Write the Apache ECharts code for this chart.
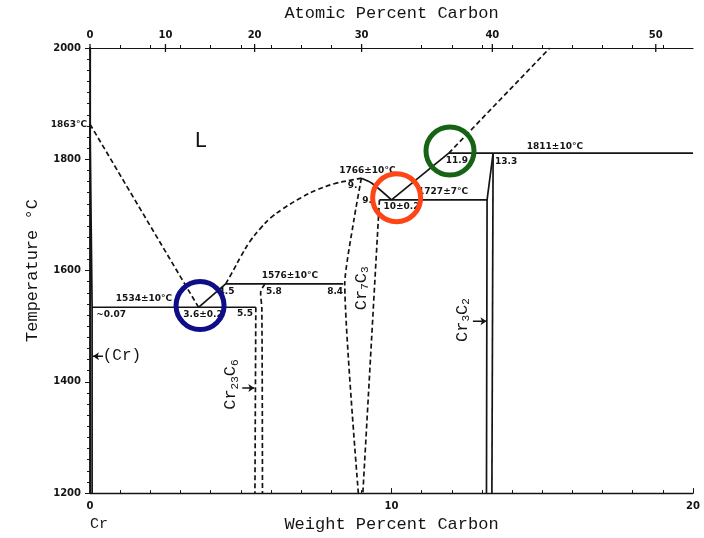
<!DOCTYPE html>
<html>
<head>
<meta charset="utf-8">
<script src="https://cdn.jsdelivr.net/npm/echarts@6/dist/echarts.min.js"></script>
<style>
  html, body { margin: 0; padding: 0; background: #fff; }
  #chart { width: 704px; height: 538px; }
</style>
</head>
<body>
<div id="chart"></div>
<script>
// Cr–C phase diagram: temperature (°C) against weight percent carbon.

// axis ticks
const tempTicks = [1200, 1400, 1600, 1800, 2000];
const atomicTicks = [0, 10, 20, 30, 40, 50];

// phase boundaries, each point [wt% C, °C]
const liquidusCr = [[0, 1863], [3.6, 1534]];
const solidusCr = [[0, 1863], [0.07, 1534], [0.07, 1200]];
const eutecticLow = [[0.07, 1534], [5.5, 1534]];
const eutecticLowTie = [[3.6, 1534], [4.5, 1576]];
const peritectic = [[4.5, 1576], [8.4, 1576]];
const liquidusMid = [[4.5, 1576], [4.75, 1600], [5.0, 1625], [5.3, 1652], [5.64, 1675], [6.0, 1695],
  [6.4, 1711], [7.0, 1731], [7.53, 1745], [8.1, 1756], [8.62, 1762], [9.0, 1766]];
const liquidusCr7C3 = [[9.0, 1766], [9.35, 1757], [10.0, 1727]];
const eutecticHighTie = [[10.0, 1727], [11.9, 1811]];
const liquidusC = [[11.9, 1811], [15.25, 2000]];
const eutecticHigh = [[9.6, 1727], [13.17, 1727]];
const eutecticTop = [[11.9, 1811], [20, 1811]];
const cr3c2Left = [[13.37, 1811], [13.17, 1727], [13.15, 1200]];
const cr3c2Right = [[13.37, 1811], [13.33, 1200]];
const cr7c3Left = [[9.0, 1766], [8.75, 1690], [8.45, 1576], [8.9, 1200]];
const cr7c3Right = [[9.6, 1727], [9.05, 1200]];
const cr23c6Left = [[5.5, 1534], [5.47, 1200]];
const cr23c6Right = [[5.8, 1576], [5.66, 1560], [5.7, 1530], [5.72, 1200]];

// value notes [text, wt% C, °C]
const notes = [
  ['1534±10°C', 1.79, 1550],
  ['~0.07', 0.70, 1520],
  ['3.6±0.2', 3.75, 1520],
  ['5.5', 5.14, 1523],
  ['4.5', 4.53, 1562],
  ['1576±10°C', 6.63, 1591],
  ['5.8', 6.10, 1562],
  ['8.4', 8.13, 1562],
  ['1766±10°C', 9.2, 1779],
  ['9.', 8.71, 1752],
  ['9.', 9.19, 1725],
  ['10±0.2', 10.33, 1714],
  ['1727±7°C', 11.71, 1741],
  ['11.9', 12.17, 1798],
  ['13.3', 13.8, 1796],
  ['1811±10°C', 15.42, 1823]
];
const meltCr = ['1863°C', 0, 1863];

// phase names: [element, count, element, count, wt% C, °C]
const phases = [
  ['Cr', '7', 'C', '3', 8.99, 1568],
  ['Cr', '3', 'C', '2', 12.34, 1511],
  ['Cr', '23', 'C', '6', 4.66, 1395]
];
const liquidName = ['L', 3.68, 1832];
const crPhase = ['(Cr)', 1.06, 1446];
const crElement = ['Cr', 0, 1200];

// pointers from phase names to their boundaries
const arrowCr = [[0.1, 1446], [0.43, 1446]];
const arrowCr3C2 = [[12.7, 1509], [13.15, 1509]];
const arrowCr23C6 = [[5.05, 1389], [5.45, 1389]];

// highlighted invariant points
const highlightAt = [[3.65, 1537], [10.17, 1731], [11.94, 1815]];
const highlightColors = ['#0e0e88', '#ff4516', '#156315'];

const ink = '#141414';
const mono = '"Liberation Mono", "DejaVu Sans Mono", monospace';
const noteFont = '"DejaVu Sans", sans-serif';

const atomicMassC = 12.011, atomicMassCr = 51.996;
const atToWt = a => 100 * a * atomicMassC / (a * atomicMassC + (100 - a) * atomicMassCr);

function boundary(data, dashed, smooth) {
  return {
    type: 'line', data: data, symbol: 'none', silent: true, z: 3,
    smooth: smooth || false,
    lineStyle: { color: ink, width: 1.7, type: dashed ? [5, 3] : 'solid' }
  };
}

function pointer(data, dir) {
  return {
    type: 'line', silent: true, z: 4,
    data: [
      { value: data[0], symbol: dir === 'left' ? 'arrow' : 'none', symbolSize: 6, symbolRotate: 90 },
      { value: data[1], symbol: dir === 'right' ? 'arrow' : 'none', symbolSize: 6, symbolRotate: -90 }
    ],
    showSymbol: true,
    itemStyle: { color: ink, opacity: 1 },
    lineStyle: { color: ink, width: 1.4 }
  };
}

function textSeries(items, label, extra) {
  return Object.assign({
    type: 'scatter', silent: true, z: 5, symbolSize: 0,
    itemStyle: { opacity: 1 },
    data: items.map(n => ({ value: [n[1], n[2]], name: n[0] })),
    label: Object.assign({ show: true, position: 'inside', formatter: p => p.name, color: ink }, label)
  }, extra || {});
}

const chart = echarts.init(document.getElementById('chart'), null, { renderer: 'canvas' });

chart.setOption({
  backgroundColor: '#ffffff',
  animation: false,
  grid: { left: 90, right: 11, top: 48, bottom: 41 },
  xAxis: [
    {
      type: 'value', min: 0, max: 20, interval: 10, position: 'bottom',
      name: 'Weight Percent Carbon', nameLocation: 'middle', nameGap: 20,
      nameTextStyle: { fontFamily: mono, fontSize: 17, color: ink },
      axisLine: { lineStyle: { color: ink, width: 1.4 } },
      axisTick: { inside: true, length: 5, lineStyle: { color: ink } },
      minorTick: { show: true, splitNumber: 10, length: 3, lineStyle: { color: ink } },
      axisLabel: { fontFamily: noteFont, fontWeight: 'bold', fontSize: 10, color: ink, margin: 8 },
      splitLine: { show: false }
    },
    {
      type: 'value', min: 0, max: 20, interval: 10, position: 'top',
      name: 'Atomic Percent Carbon', nameLocation: 'middle', nameGap: 26,
      nameTextStyle: { fontFamily: mono, fontSize: 17, color: ink },
      axisLine: { lineStyle: { color: ink, width: 1.2 } },
      axisTick: { show: false },
      minorTick: { show: true, splitNumber: 10, length: 3, lineStyle: { color: ink } },
      axisLabel: { show: false },
      splitLine: { show: false }
    }
  ],
  yAxis: [
    {
      type: 'value', min: tempTicks[0], max: tempTicks[tempTicks.length - 1], interval: 200,
      name: 'Temperature °C', nameLocation: 'middle', nameGap: 49, nameRotate: 90,
      nameTextStyle: { fontFamily: mono, fontSize: 17, color: ink },
      axisLine: { lineStyle: { color: ink, width: 1.8 } },
      axisTick: { inside: false, length: 5, lineStyle: { color: ink } },
      minorTick: { show: true, splitNumber: 10, length: 3, lineStyle: { color: ink } },
      axisLabel: {
        fontFamily: noteFont, fontWeight: 'bold', fontSize: 10, color: ink, margin: 9,
        formatter: v => String(v)
      },
      splitLine: { show: false }
    },
    {
      type: 'value', min: 1200, max: 2000, interval: 200, position: 'right',
      axisLine: { lineStyle: { color: ink, width: 1.2 } },
      axisTick: { inside: true, length: 4, lineStyle: { color: ink } },
      minorTick: { show: true, splitNumber: 10, length: 3, lineStyle: { color: ink } },
      axisLabel: { show: false },
      splitLine: { show: false }
    }
  ],
  series: [
    boundary(liquidusCr, true),
    boundary(solidusCr, false),
    boundary(eutecticLow, false),
    boundary(eutecticLowTie, false),
    boundary(peritectic, false),
    boundary(liquidusMid, true, 0.4),
    boundary(liquidusCr7C3, false, 0.3),
    boundary(eutecticHighTie, false),
    boundary(liquidusC, true),
    boundary(eutecticHigh, false),
    boundary(eutecticTop, false),
    boundary(cr3c2Left, false),
    boundary(cr3c2Right, false),
    boundary(cr7c3Left, true, 0.2),
    boundary(cr7c3Right, true),
    boundary(cr23c6Left, true),
    boundary(cr23c6Right, true, 0.3),

    pointer(arrowCr, 'left'),
    pointer(arrowCr3C2, 'right'),
    pointer(arrowCr23C6, 'right'),

    // atomic percent scale along the top edge
    {
      type: 'scatter', silent: true, z: 5, clip: false,
      symbol: 'rect', symbolSize: [1.3, 8],
      itemStyle: { color: ink, opacity: 1 },
      data: atomicTicks.map(a => ({ value: [atToWt(a), 2000], name: String(a) })),
      label: {
        show: true, position: 'top', distance: 4, formatter: p => p.name,
        fontFamily: noteFont, fontWeight: 'bold', fontSize: 10, color: ink
      }
    },

    textSeries(notes, { fontFamily: noteFont, fontWeight: 'bold', fontSize: 9 }),
    textSeries([meltCr], { position: 'left', distance: 3, fontFamily: noteFont, fontWeight: 'bold', fontSize: 9 }),

    // phase names with subscripted counts, set vertically
    {
      type: 'scatter', silent: true, z: 5, symbolSize: 0,
      itemStyle: { opacity: 1 },
      data: phases.map(f => ({ value: [f[4], f[5]], name: f.slice(0, 4).join('|') })),
      label: {
        show: true, position: 'inside', rotate: 90, color: ink,
        formatter: p => {
          const t = p.name.split('|');
          return '{m|' + t[0] + '}{s|' + t[1] + '}{m|' + t[2] + '}{s|' + t[3] + '}';
        },
        rich: {
          m: { fontFamily: mono, fontSize: 17, color: ink },
          s: { fontFamily: mono, fontSize: 11, color: ink, padding: [9, 0, 0, 0] }
        }
      }
    },

    textSeries([liquidName], { fontFamily: mono, fontSize: 22 }),
    textSeries([crPhase], { fontFamily: mono, fontSize: 16 }),
    textSeries([crElement], { position: 'inside', offset: [9, 31], fontFamily: mono, fontSize: 15 }, { clip: false }),

    // circled invariant points
    {
      type: 'scatter', silent: true, z: 10, symbol: 'circle', symbolSize: 48,
      data: highlightAt.map((p, i) => ({
        value: p,
        itemStyle: { color: 'rgba(0,0,0,0)', borderColor: highlightColors[i], borderWidth: 5, opacity: 1 }
      }))
    }
  ]
});
</script>
</body>
</html>
